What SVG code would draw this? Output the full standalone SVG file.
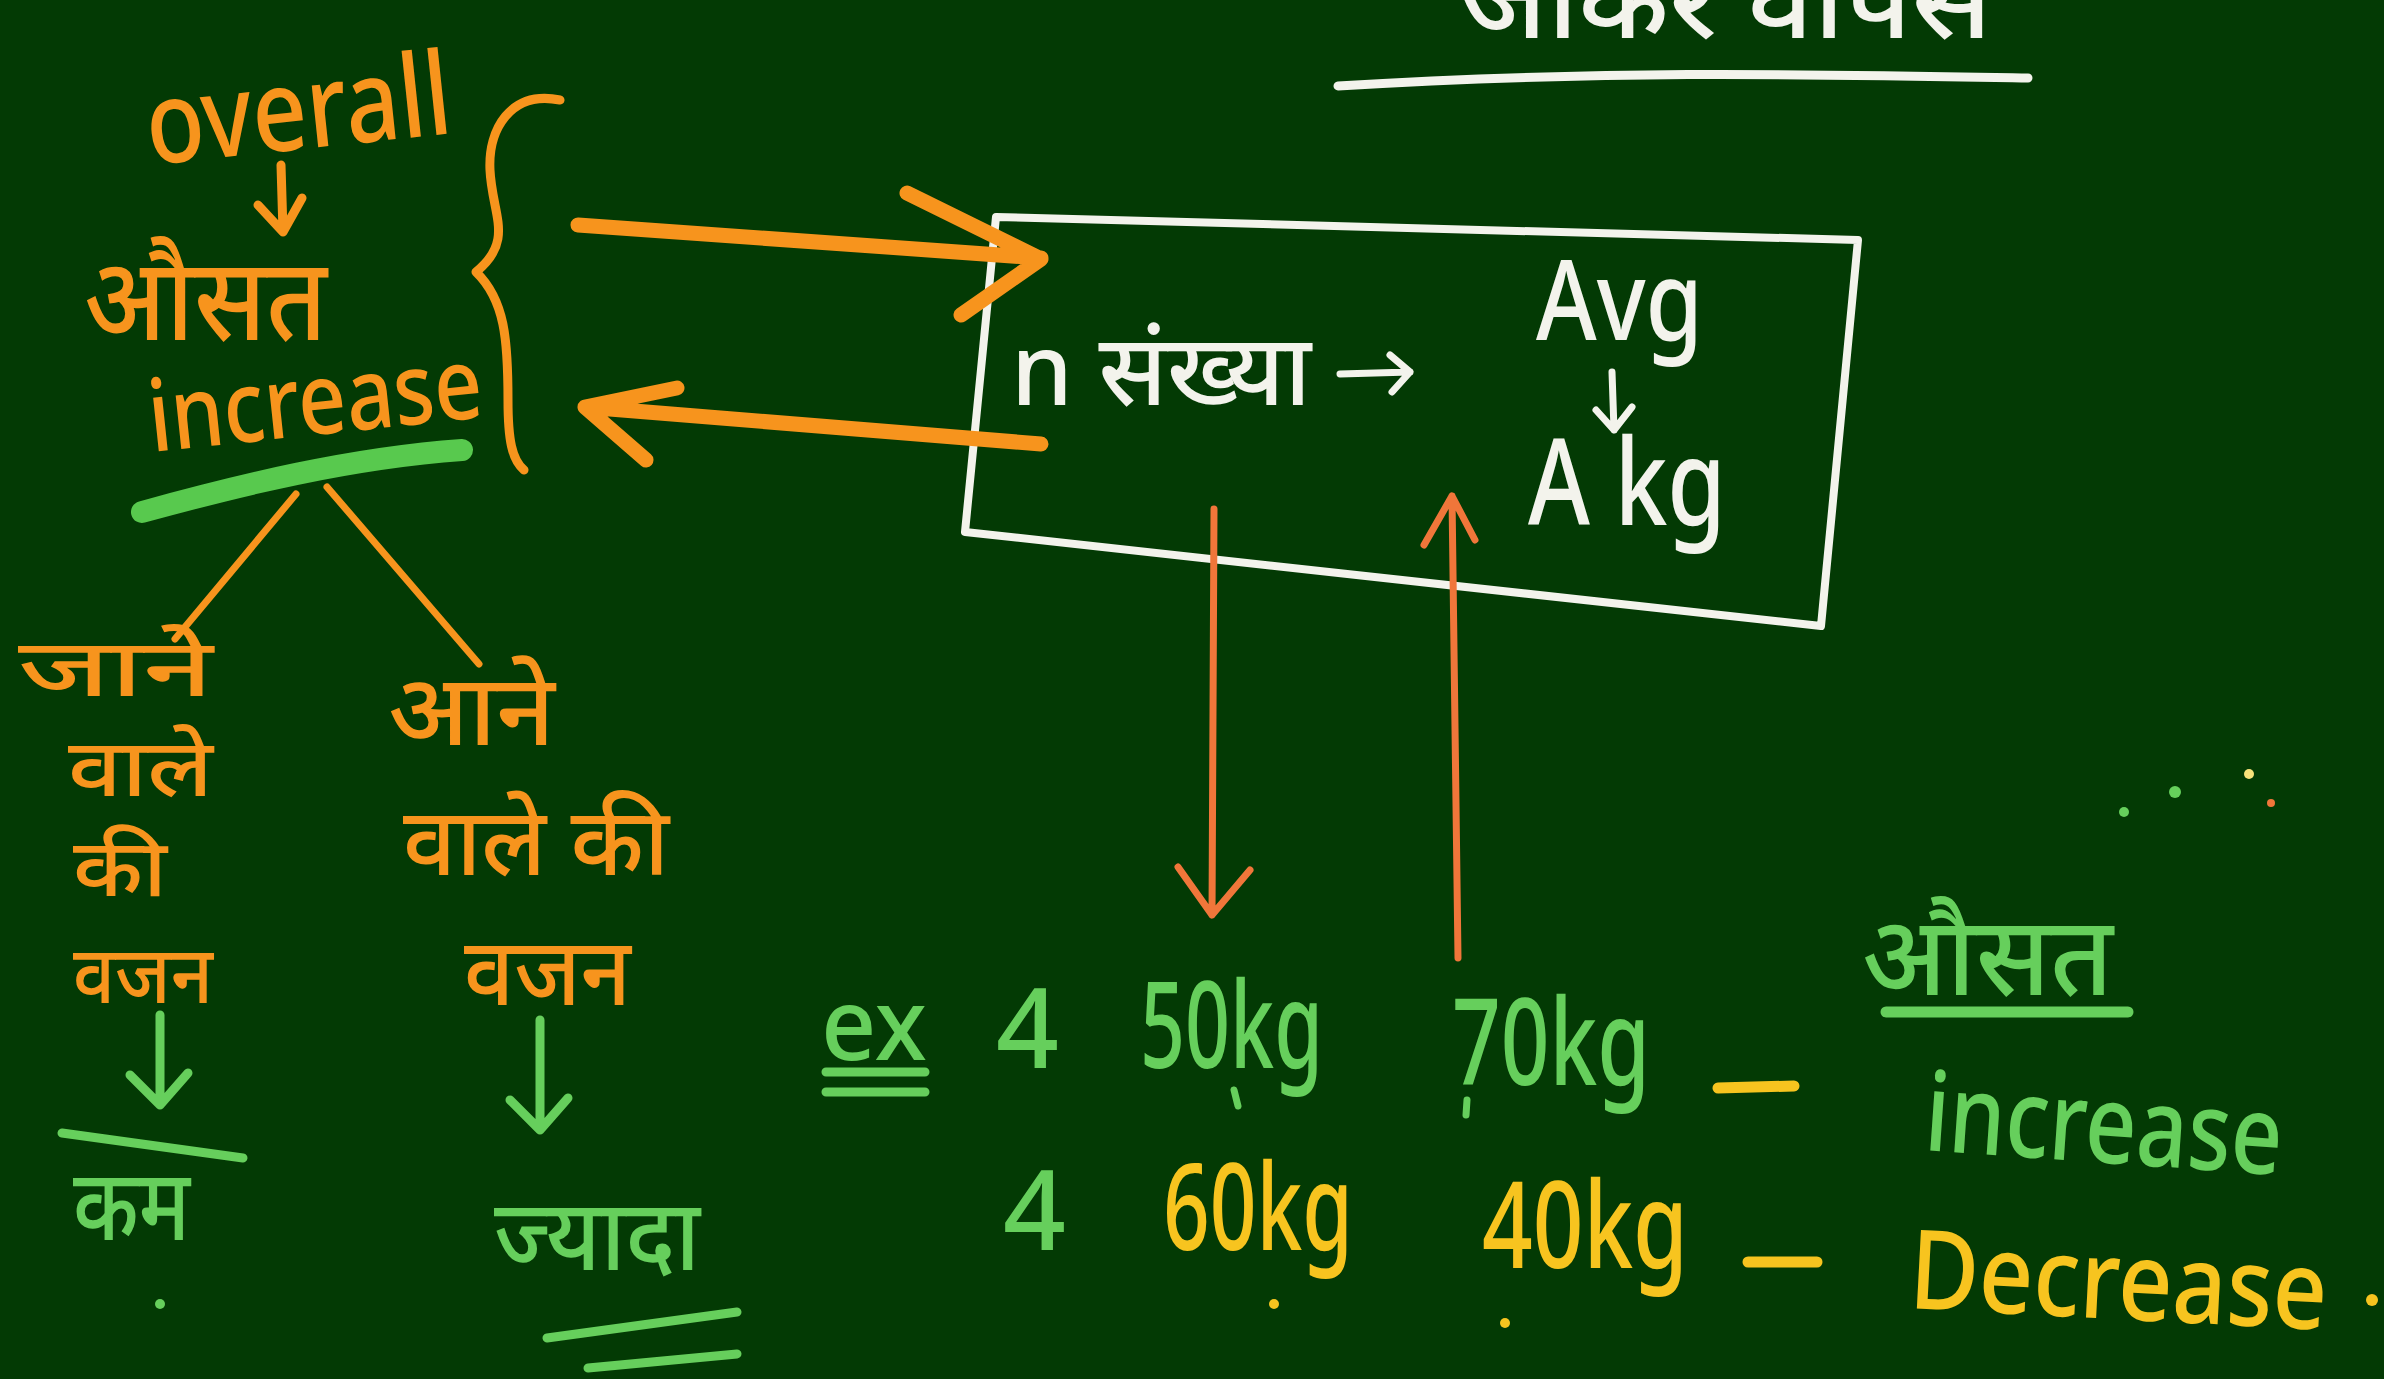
<svg xmlns="http://www.w3.org/2000/svg" width="2384" height="1379" viewBox="0 0 2384 1379">
<defs>
<style>
.bg{fill:#033a04}
text{font-family:"Noto Sans","Liberation Sans",sans-serif;font-weight:500}
.or{fill:#f7941d}
.gr{fill:#66cf5c}
.ye{fill:#f7c41f}
.wh{fill:#f3f3ec}
.lo{stroke:#f7941d;fill:none;stroke-linecap:round;stroke-linejoin:round}
.lr{stroke:#f0763a;fill:none;stroke-linecap:round;stroke-linejoin:round}
.lg{stroke:#66cf5c;fill:none;stroke-linecap:round;stroke-linejoin:round}
.ly{stroke:#f7c41f;fill:none;stroke-linecap:round}
.lw{stroke:#f3f3ec;fill:none;stroke-linecap:round;stroke-linejoin:round}
</style>
</defs>
<rect class="bg" x="0" y="0" width="2384" height="1379"/>

<g id="title">
<text class="wh" x="1460" y="38" font-size="105" textLength="532" lengthAdjust="spacingAndGlyphs">जाकर वापस</text>
<path class="lw" d="M1338,86 C1600,70 1800,74 2028,78" stroke-width="9"/>
</g>

<g id="overall-group">
<text class="or" x="150" y="165" font-size="115" textLength="306" lengthAdjust="spacingAndGlyphs" transform="rotate(-6 150 165)">overall</text>
<path class="lo" d="M281,165 L283,232 M258,205 L283,232 L302,198" stroke-width="9"/>
<text class="or" x="84" y="340" font-size="115" textLength="243" lengthAdjust="spacingAndGlyphs">औसत</text>
<text class="or" x="152" y="452" font-size="100" textLength="335" lengthAdjust="spacingAndGlyphs" transform="rotate(-6 152 452)">increase</text>
<path class="lo" d="M560,100 C510,90 488,130 490,170 C492,215 515,240 476,272 C505,300 508,340 508,400 C508,440 512,460 524,470" stroke-width="9"/>
<path d="M142,512 C240,485 350,458 462,450" stroke="#58c94e" stroke-width="22" fill="none" stroke-linecap="round"/>
</g>

<g id="left-branch">
<text class="or" x="18" y="696" font-size="80" textLength="195" lengthAdjust="spacingAndGlyphs">जाने</text>
<text class="or" x="68" y="796" font-size="80" textLength="145" lengthAdjust="spacingAndGlyphs">वाले</text>
<text class="or" x="73" y="896" font-size="80" textLength="94" lengthAdjust="spacingAndGlyphs">की</text>
<text class="or" x="73" y="1003" font-size="80" textLength="140" lengthAdjust="spacingAndGlyphs">वजन</text>
<path class="lg" d="M160,1015 L160,1105 M130,1075 L160,1105 L188,1073" stroke-width="9"/>
<path class="lg" d="M62,1133 L243,1158" stroke-width="9"/>
<text class="gr" x="73" y="1240" font-size="100" textLength="117" lengthAdjust="spacingAndGlyphs">कम</text>
<circle cx="160" cy="1304" r="5" fill="#66cf5c"/>
</g>

<g id="right-branch">
<text class="or" x="388" y="745" font-size="100" textLength="167" lengthAdjust="spacingAndGlyphs">आने</text>
<text class="or" x="403" y="875" font-size="95" textLength="266" lengthAdjust="spacingAndGlyphs">वाले की</text>
<text class="or" x="464" y="1005" font-size="95" textLength="167" lengthAdjust="spacingAndGlyphs">वजन</text>
<path class="lg" d="M540,1020 L540,1130 M510,1100 L540,1130 L568,1098" stroke-width="9"/>
<text class="gr" x="494" y="1270" font-size="100" textLength="206" lengthAdjust="spacingAndGlyphs">ज्यादा</text>
<path class="lg" d="M547,1338 L737,1312 M588,1368 L737,1354" stroke-width="9"/>
</g>

<g id="box">
<path class="lw" d="M996,217 L1858,240 L1821,626 L965,532 Z" stroke-width="8"/>
<text class="wh" x="1011" y="405" font-size="100" textLength="300" lengthAdjust="spacingAndGlyphs">n संख्या</text>
<path class="lw" d="M1340,374 L1410,372 M1390,355 L1410,372 L1392,392" stroke-width="7"/>
<text class="wh" x="1536" y="340" font-size="110" textLength="167" lengthAdjust="spacingAndGlyphs">Avg</text>
<path class="lw" d="M1612,372 L1614,430 M1596,410 L1614,430 L1632,407" stroke-width="7"/>
<text class="wh" x="1528" y="525" font-size="120" textLength="198" lengthAdjust="spacingAndGlyphs">A kg</text>
</g>

<g id="example">
<text class="gr" x="821" y="1060" font-size="100" textLength="106" lengthAdjust="spacingAndGlyphs">ex</text>
<path class="lg" d="M826,1072 L925,1072 M826,1092 L925,1092" stroke-width="9"/>
<text class="gr" x="996" y="1068" font-size="110">4</text>
<text class="gr" x="1140" y="1068" font-size="120" textLength="183" lengthAdjust="spacingAndGlyphs">50kg</text>
<text class="gr" x="1452" y="1085" font-size="120" textLength="198" lengthAdjust="spacingAndGlyphs">70kg</text>
<path class="lg" d="M1234,1090 L1238,1106 M1467,1100 L1466,1115" stroke-width="7"/>
<path class="ly" d="M1718,1088 L1794,1086" stroke-width="11"/>
<text class="gr" x="1862" y="995" font-size="110" textLength="251" lengthAdjust="spacingAndGlyphs">औसत</text>
<path class="lg" d="M1886,1012 L2128,1012" stroke-width="11"/>
<text class="gr" x="1923" y="1150" font-size="110" textLength="358" lengthAdjust="spacingAndGlyphs" transform="rotate(4 1923 1150)">increase</text>
<text class="gr" x="1003" y="1250" font-size="110">4</text>
<text class="ye" x="1163" y="1250" font-size="120" textLength="190" lengthAdjust="spacingAndGlyphs">60kg</text>
<text class="ye" x="1482" y="1268" font-size="120" textLength="206" lengthAdjust="spacingAndGlyphs">40kg</text>
<path class="ly" d="M1748,1262 L1817,1262" stroke-width="11"/>
<text class="ye" x="1908" y="1308" font-size="110" textLength="418" lengthAdjust="spacingAndGlyphs" transform="rotate(3 1908 1308)">Decrease</text>
<circle cx="1274" cy="1304" r="5" fill="#f7c41f"/>
<circle cx="1505" cy="1323" r="5" fill="#f7c41f"/>
<circle cx="2372" cy="1300" r="6" fill="#f7c41f"/>
<circle cx="2124" cy="812" r="5" fill="#66cf5c"/>
<circle cx="2175" cy="792" r="6" fill="#66cf5c"/>
<circle cx="2249" cy="774" r="5" fill="#f7e27a"/>
<circle cx="2271" cy="803" r="4" fill="#f0763a"/>
</g>

<g id="connectors">
<path class="lo" d="M296,494 L175,639" stroke-width="7"/>
<path class="lo" d="M327,487 L479,664" stroke-width="7"/>
<path class="lo" d="M578,225 L1041,258 M907,193 L1041,259 L961,315" stroke-width="15"/>
<path class="lo" d="M1041,444 L585,407 M677,388 L585,407 L646,460" stroke-width="15"/>
<path class="lr" d="M1214,509 L1212,915 M1178,867 L1212,915 L1250,870" stroke-width="7"/>
<path class="lr" d="M1458,958 L1452,496 M1424,545 L1452,496 L1475,540" stroke-width="7"/>
</g>
</svg>
